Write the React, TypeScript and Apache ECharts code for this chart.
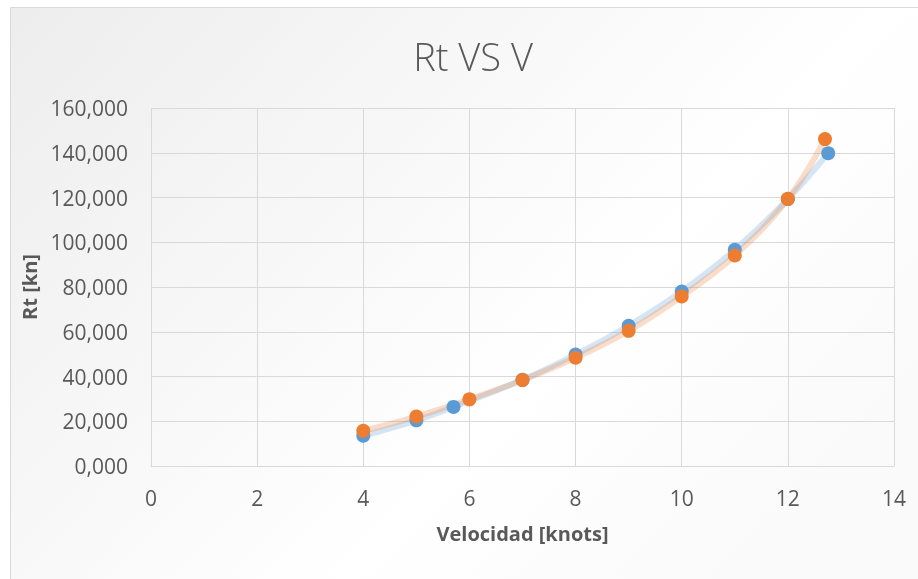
import React, { useEffect, useRef } from "react";
import * as echarts from "echarts";

const chartTitle = "Rt VS V";
const xAxisName = "Velocidad [knots]";
const yAxisName = "Rt [kn]";

// Series 1 (blue)
const speedBlue = [4, 5, 5.7, 7, 8, 9, 10, 11, 12, 12.76];
const rtBlue = [13.5, 20.4, 26.4, 38.5, 49.8, 62.7, 78.0, 96.6, 119.3, 139.8];
// Series 2 (orange)
const speedOrange = [4, 5, 6, 7, 8, 9, 10, 11, 12, 12.7];
const rtOrange = [15.7, 22.1, 29.8, 38.4, 48.4, 60.4, 75.8, 94.1, 119.4, 146.1];

const xTicks = { min: 0, max: 14, interval: 2 };
const yTicks = { min: 0, max: 160, interval: 20 };

const BLUE = "#5b9bd5";
const ORANGE = "#ed7d31";
const TEXT = "#595959";
const GRID = "#d9d9d9";
const FONT = "'Open Sans', 'Noto Sans', sans-serif";

function pairs(xs: number[], ys: number[]) {
  return xs.map((x, i) => [x, ys[i]]);
}

export default function App() {
  const ref = useRef<HTMLDivElement>(null);
  useEffect(() => {
    if (!ref.current) return;
    const chart = echarts.init(ref.current, null, { renderer: "svg" });
    chart.setOption({
      animation: false,
      textStyle: { fontFamily: FONT },
      graphic: [
        {
          type: "rect",
          z: -100,
          silent: true,
          shape: { x: 10.5, y: 7.5, width: 920, height: 580 },
          style: {
            fill: {
              type: "linear",
              x: 0,
              y: 0,
              x2: 1,
              y2: 0.6,
              colorStops: [
                { offset: 0, color: "#ededed" },
                { offset: 0.7, color: "#ffffff" },
                { offset: 1, color: "#fafafa" },
              ],
            },
            stroke: GRID,
            lineWidth: 1,
          },
        },
      ],
      title: {
        text: chartTitle,
        left: 468,
        top: 32,
        textAlign: "center",
        textStyle: {
          fontFamily: FONT,
          fontSize: 38,
          fontWeight: 300,
          color: TEXT,
        },
      },
      grid: { left: 151, right: 24, top: 108, bottom: 113 },
      xAxis: {
        type: "value",
        min: xTicks.min,
        max: xTicks.max,
        interval: xTicks.interval,
        name: xAxisName,
        nameLocation: "middle",
        nameGap: 57,
        nameTextStyle: {
          fontFamily: FONT,
          fontSize: 20,
          fontWeight: "bold",
          color: TEXT,
        },
        axisLine: { show: true, lineStyle: { color: GRID, width: 1 } },
        axisTick: { show: false },
        axisLabel: { fontSize: 21, color: TEXT, margin: 21, fontFamily: FONT },
        splitLine: { show: true, lineStyle: { color: GRID, width: 1 } },
      },
      yAxis: {
        type: "value",
        min: yTicks.min,
        max: yTicks.max,
        interval: yTicks.interval,
        name: yAxisName,
        nameLocation: "middle",
        nameRotate: 90,
        nameGap: 104,
        nameTextStyle: {
          fontFamily: FONT,
          fontSize: 20,
          fontWeight: "bold",
          color: TEXT,
        },
        axisLine: { show: false },
        axisTick: { show: false },
        axisLabel: {
          fontSize: 21,
          color: TEXT,
          margin: 23,
          fontFamily: FONT,
          formatter: (v: number) => v.toFixed(3).replace(".", ","),
        },
        splitLine: { show: true, lineStyle: { color: GRID, width: 1 } },
      },
      series: [
        {
          type: "line",
          name: "blue trend",
          data: pairs(speedBlue, rtBlue),
          smooth: 0.4,
          showSymbol: false,
          symbol: "none",
          lineStyle: { color: BLUE, width: 6, opacity: 0.25 },
          z: 1,
        },
        {
          type: "line",
          name: "orange trend",
          data: pairs(speedOrange, rtOrange),
          smooth: 0.4,
          showSymbol: false,
          symbol: "none",
          lineStyle: { color: ORANGE, width: 6, opacity: 0.25 },
          z: 1,
        },
        {
          type: "scatter",
          name: "blue",
          data: pairs(speedBlue, rtBlue),
          symbolSize: 14,
          itemStyle: { color: BLUE, opacity: 1 },
          z: 3,
        },
        {
          type: "scatter",
          name: "orange",
          data: pairs(speedOrange, rtOrange),
          symbolSize: 14,
          itemStyle: { color: ORANGE, opacity: 1 },
          z: 4,
        },
      ],
    });
    return () => chart.dispose();
  }, []);
  return (
    <div
      ref={ref}
      style={{ position: "fixed", left: 0, top: 0, width: 918, height: 579 }}
    />
  );
}
